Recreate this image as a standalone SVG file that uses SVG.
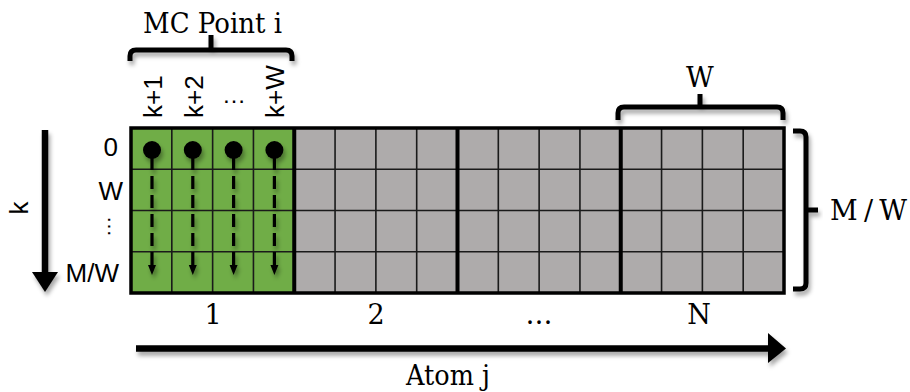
<svg xmlns="http://www.w3.org/2000/svg" width="910" height="392" viewBox="0 0 910 392">
<defs>
<style>
.sans{font-family:"Liberation Sans",Arial,sans-serif;font-size:26px;fill:#000}
.serif{font-family:"DejaVu Serif","Liberation Serif",serif;font-size:27px;fill:#000}
.thin{stroke:#1a1a1a;stroke-width:1.6;fill:none}
.heavy{stroke:#000;stroke-width:4;fill:none}
.brace{stroke:#000;stroke-width:5;fill:none;stroke-linecap:butt}
.dash{stroke:#000;stroke-width:3.2;stroke-dasharray:13 6;fill:none}
</style>
<filter id="sh" x="-20%" y="-20%" width="140%" height="160%">
<feDropShadow dx="2" dy="4" stdDeviation="2" flood-color="#000" flood-opacity="0.35"/>
</filter>
</defs>
<rect width="910" height="392" fill="#fff"/>

<g id="sec1">
<rect x="131" y="128" width="163.25" height="165" fill="#70AD47"/>
<path class="thin" d="M171.81,128V293M212.63,128V293M253.44,128V293M131,169.25H294.25M131,210.5H294.25M131,251.75H294.25"/>
</g>
<g id="sec2">
<rect x="294.25" y="128" width="163.25" height="165" fill="#AEABAB"/>
<path class="thin" d="M335.06,128V293M375.88,128V293M416.69,128V293M294.25,169.25H457.5M294.25,210.5H457.5M294.25,251.75H457.5"/>
</g>
<g id="sec3">
<rect x="457.5" y="128" width="163.25" height="165" fill="#AEABAB"/>
<path class="thin" d="M498.31,128V293M539.13,128V293M579.94,128V293M457.5,169.25H620.75M457.5,210.5H620.75M457.5,251.75H620.75"/>
</g>
<g id="secN">
<rect x="620.75" y="128" width="163.25" height="165" fill="#AEABAB"/>
<path class="thin" d="M661.56,128V293M702.38,128V293M743.19,128V293M620.75,169.25H784M620.75,210.5H784M620.75,251.75H784"/>
</g>
<g id="grid-frame">
<path class="heavy" d="M294.25,128V293M457.5,128V293M620.75,128V293"/>
<rect x="131" y="128" width="653" height="165" fill="none" stroke="#000" stroke-width="3.5"/>
</g>

<g id="mc-paths" filter="url(#sh)">
<circle cx="152" cy="150" r="9"/>
<circle cx="192.8" cy="150" r="9"/>
<circle cx="233.6" cy="150" r="9"/>
<circle cx="274.4" cy="150" r="9"/>
<path class="dash" d="M152,157V266M192.8,157V266M233.6,157V266M274.4,157V266"/>
<path d="M148,265H156L152,275ZM188.8,265H196.8L192.8,275ZM229.6,265H237.6L233.6,275ZM270.4,265H278.4L274.4,275Z"/>
</g>

<g id="col-labels" class="sans">
<text transform="translate(162,118) rotate(-90)">k+1</text>
<text transform="translate(202.8,118) rotate(-90)">k+2</text>
<text x="234" y="103" text-anchor="middle" style="font-size:24px">…</text>
<text transform="translate(284.4,118) rotate(-90)">k+W</text>
</g>

<g id="row-labels" class="sans">
<text x="118" y="156" text-anchor="end">0</text>
<text x="123" y="200" text-anchor="end">W</text>
<text transform="translate(108,216) rotate(90)" style="font-size:21px">…</text>
<text x="119" y="282" text-anchor="end">M/W</text>
</g>

<g id="k-axis">
<g filter="url(#sh)">
<line x1="45" y1="130" x2="45" y2="274" stroke="#000" stroke-width="6.5"/>
<polygon points="32,272 58,272 45,292"/>
</g>
<text class="sans" transform="translate(28,208) rotate(-90)" text-anchor="middle">k</text>
</g>

<g id="mc-brace">
<g filter="url(#sh)">
<path class="brace" d="M130,61V56Q130,50 136,50H286Q292,50 292,56V61M211,50V35"/>
</g>
<text class="serif" x="143" y="33" textLength="139" lengthAdjust="spacingAndGlyphs">MC Point i</text>
</g>

<g id="w-brace">
<g filter="url(#sh)">
<path class="brace" d="M618,120V113Q618,107 624,107H777Q783,107 783,113V120M700,107V94"/>
</g>
<text class="serif" x="700" y="87" text-anchor="middle">W</text>
</g>

<g id="mw-brace">
<g filter="url(#sh)">
<path class="brace" d="M793,131H800Q806,131 806,137V283Q806,289 800,289H793M806,210H818"/>
</g>
<text class="serif" x="830" y="220" textLength="77" lengthAdjust="spacing">M/W</text>
</g>

<g id="atom-labels" class="serif">
<text x="213" y="324" text-anchor="middle">1</text>
<text x="376" y="324" text-anchor="middle">2</text>
<text x="539" y="324" text-anchor="middle">…</text>
<text x="699" y="324" text-anchor="middle">N</text>
</g>

<g id="atom-axis">
<g filter="url(#sh)">
<line x1="136" y1="348.5" x2="770" y2="348.5" stroke="#000" stroke-width="6.5"/>
<polygon points="768,333 786,348.5 768,363"/>
</g>
<text class="serif" x="448" y="385" text-anchor="middle" textLength="84" lengthAdjust="spacingAndGlyphs">Atom j</text>
</g>
</svg>
